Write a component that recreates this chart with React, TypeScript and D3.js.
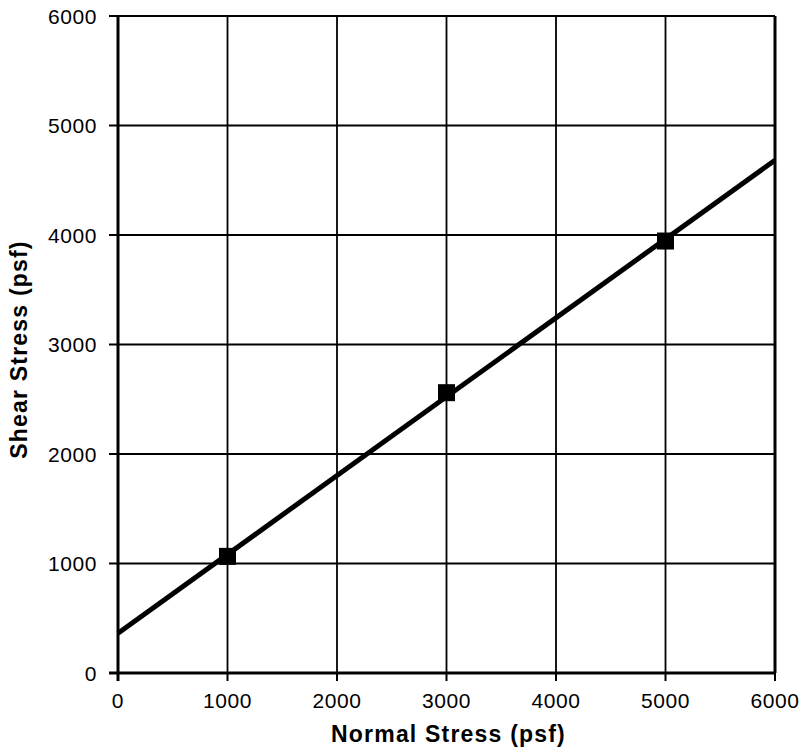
import React from "react";
import * as d3 from "d3";

const normalStress = [1000, 3000, 5000];
const shearStress = [1065, 2560, 3945];
const xTicks = [0, 1000, 2000, 3000, 4000, 5000, 6000];
const yTicks = [0, 1000, 2000, 3000, 4000, 5000, 6000];

const W = 804;
const H = 753;
const left = 118;
const right = 775;
const top = 16;
const bottom = 673;

export default function App() {
  const x = d3.scaleLinear().domain([0, 6000]).range([left, right]);
  const y = d3.scaleLinear().domain([0, 6000]).range([bottom, top]);

  // least-squares fit of the test points
  const mx = d3.mean(normalStress)!;
  const my = d3.mean(shearStress)!;
  const sxy = d3.sum(normalStress, (v, i) => (v - mx) * (shearStress[i] - my));
  const sxx = d3.sum(normalStress, (v) => (v - mx) ** 2);
  const slope = sxy / sxx;
  const intercept = my - slope * mx;
  const fit: [number, number][] = [0, 6000].map((v) => [v, intercept + slope * v]);
  const line = d3
    .line<[number, number]>()
    .x((d) => x(d[0]))
    .y((d) => y(d[1]));

  const font = "Arial, 'Liberation Sans', sans-serif";
  const ms = 17;

  return (
    <svg
      width={W}
      height={H}
      style={{ position: "absolute", left: 0, top: 0, background: "#fff" }}
      fontFamily={font}
    >
      <rect x={0} y={0} width={W} height={H} fill="#fff" />
      {/* grid */}
      {xTicks.slice(1, -1).map((t) => (
        <line key={"gx" + t} x1={x(t)} x2={x(t)} y1={top} y2={bottom} stroke="#000" strokeWidth={1.8} />
      ))}
      {yTicks.slice(1, -1).map((t) => (
        <line key={"gy" + t} x1={left} x2={right} y1={y(t)} y2={y(t)} stroke="#000" strokeWidth={1.8} />
      ))}
      {/* frame */}
      <line x1={left} x2={right} y1={top} y2={top} stroke="#000" strokeWidth={2} />
      <line x1={right} x2={right} y1={top} y2={bottom} stroke="#000" strokeWidth={3} />
      <line x1={left} x2={left} y1={top} y2={bottom + 8} stroke="#000" strokeWidth={3} />
      <line x1={left - 9} x2={right} y1={bottom} y2={bottom} stroke="#000" strokeWidth={3} />
      {/* tick marks */}
      {xTicks.map((t) => (
        <line key={"tx" + t} x1={x(t)} x2={x(t)} y1={bottom} y2={bottom + 8} stroke="#000" strokeWidth={2} />
      ))}
      {yTicks.map((t) => (
        <line key={"ty" + t} x1={left - 9} x2={left} y1={y(t)} y2={y(t)} stroke="#000" strokeWidth={2} />
      ))}
      {/* tick labels */}
      {xTicks.map((t) => (
        <text key={"lx" + t} x={x(t)} y={bottom + 35} textAnchor="middle" fontSize={21} letterSpacing={0.6}>
          {t}
        </text>
      ))}
      {yTicks.map((t) => (
        <text key={"ly" + t} x={left - 21} y={y(t) + 7.5} textAnchor="end" fontSize={21} letterSpacing={0.6}>
          {t}
        </text>
      ))}
      {/* fit line */}
      <path d={line(fit) ?? ""} fill="none" stroke="#000" strokeWidth={5} />
      {/* data points */}
      {normalStress.map((v, i) => (
        <rect
          key={"p" + v}
          x={x(v) - ms / 2}
          y={y(shearStress[i]) - ms / 2}
          width={ms}
          height={ms}
          fill="#000"
        />
      ))}
      {/* axis titles */}
      <text x={(left + right) / 2 + 2} y={742} textAnchor="middle" fontSize={23} fontWeight="bold" letterSpacing={1.2}>
        Normal Stress (psf)
      </text>
      <text
        transform={`translate(27,${(top + bottom) / 2 + 5}) rotate(-90)`}
        textAnchor="middle"
        fontSize={23}
        fontWeight="bold"
        letterSpacing={1.2}
      >
        Shear Stress (psf)
      </text>
    </svg>
  );
}
